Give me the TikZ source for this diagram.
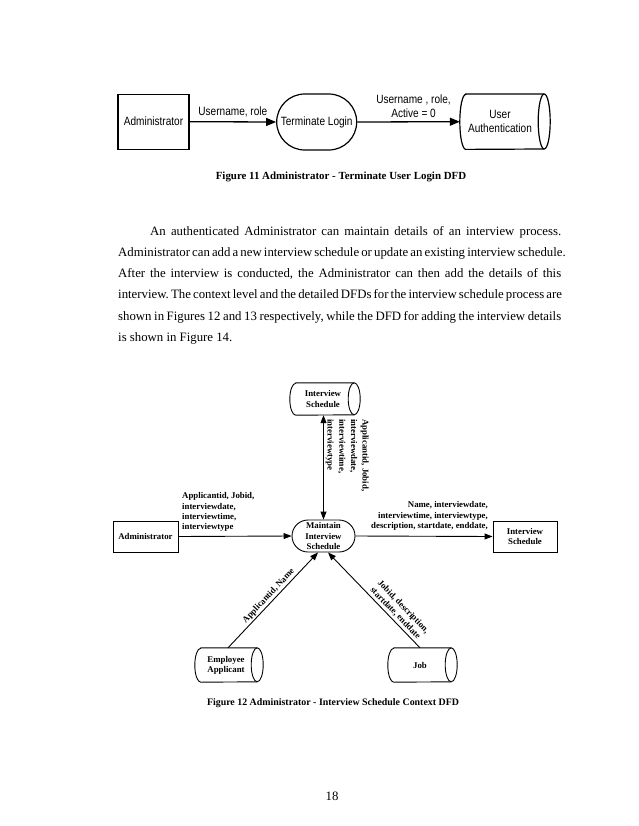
\documentclass[tikz,border=0pt]{standalone}
\usepackage{fontspec}
\setmainfont{Liberation Serif}
\newfontfamily\figsans[FakeStretch=0.84]{Liberation Sans}
\usetikzlibrary{arrows.meta,positioning}
\frenchspacing
\newcommand{\storeoutline}[4]{%
  \draw[#4] ([xshift=#2]#1.north west) -- ([xshift=-#2]#1.north east)
    arc[start angle=90,end angle=-90,x radius=#2,y radius=#3]
    -- ([xshift=#2]#1.south west)
    arc[start angle=270,end angle=90,x radius=#2,y radius=#3] -- cycle;
  \draw[#4] ([xshift=-#2]#1.north east)
    arc[start angle=90,end angle=270,x radius=#2,y radius=#3];}
\tikzset{
  fa/.style={font=\figsans\fontsize{12}{14}\selectfont},
  fb/.style={font=\bfseries\fontsize{8.8}{10.2}\selectfont},
  linea/.style={line width=1.2pt},
  lineb/.style={line width=0.9pt},
  boxa/.style={fa,draw,linea,inner sep=0pt,align=center},
  boxb/.style={fb,draw,lineb,inner sep=0pt,align=center},
  storetext/.style={inner sep=0pt,align=center},
  arra/.style={-{Triangle[length=10pt,width=8pt]},line width=1.3pt},
  arrb/.style={-{Triangle[length=8pt,width=6pt]},line width=0.9pt},
  para/.style={inner sep=0pt,anchor=base west,font=\fontsize{12.8}{21.3}\selectfont},
  caption/.style={inner sep=0pt,anchor=base,font=\bfseries\fontsize{10.9}{13}\selectfont},
}
\begin{document}
\begin{tikzpicture}[x=1pt,y=1pt]
\useasboundingbox[fill=white] (0,0) rectangle (638,-826);

% ---------- Figure 11 ----------
\node[boxa,minimum width=71pt,minimum height=55pt] (adm1) at (153.5,-121.7) {Administrator};
\node[boxa,rounded corners=28pt,minimum width=80pt,minimum height=56pt] (term) at (316.7,-122) {Terminate Login};
\node[storetext,fa,minimum width=90pt,minimum height=55pt] (uauth) at (505,-121.7) {};
\node[fa,inner sep=0pt,align=center] (uauthtxt) at (500,-121) {User\\Authentication};
\storeoutline{uauth}{6pt}{27.5pt}{linea}
\draw[arra] (adm1.east) -- (term.west) node[fa,midway,above=4pt,inner sep=0pt] (l1) {Username, role};
\draw[arra] (term.east) -- (uauth.west) node[fa,midway,above=4pt,inner sep=0pt,align=center,xshift=5pt] (l2) {Username , role,\\Active = 0};
\node[caption] (cap11) at (341,-180) {Figure 11 Administrator - Terminate User Login DFD};

% ---------- Paragraph ----------
\node[para] (p1) at (150,-235) {\makebox[411pt][s]{An authenticated Administrator can maintain details of an interview process.}};
\node[para] (p2) at (118,-256.3) {\makebox[443pt][s]{Administrator can add a new interview schedule or update an existing interview schedule.}};
\node[para] (p3) at (118,-277.6) {\makebox[443pt][s]{After the interview is conducted, the Administrator can then add the details of this}};
\node[para] (p4) at (118,-298.9) {\makebox[443pt][s]{interview. The context level and the detailed DFDs for the interview schedule process are}};
\node[para] (p5) at (118,-320.2) {\makebox[443pt][s]{shown in Figures 12 and 13 respectively, while the DFD for adding the interview details}};
\node[para] (p6) at (118,-341.5) {is shown in Figure 14.};

% ---------- Figure 12 ----------
\node[storetext,fb,minimum width=70pt,minimum height=32pt] (istore) at (325,-399) {};
\node[fb,storetext] (istoretxt) at (323,-399) {Interview\\Schedule};
\storeoutline{istore}{6pt}{16pt}{lineb}

\node[boxb,rounded corners=16pt,minimum width=63pt,minimum height=32pt] (maint) at (323.5,-536) {Maintain\\Interview\\Schedule};
\node[boxb,minimum width=65pt,minimum height=31pt] (adm2) at (145.5,-536.5) {Administrator};
\node[boxb,minimum width=64pt,minimum height=31pt] (isched) at (525,-536.5) {Interview\\Schedule};

\node[storetext,fb,minimum width=68pt,minimum height=34pt] (emp) at (229,-665) {};
\node[fb,storetext] (emptxt) at (226,-665) {Employee\\Applicant};
\storeoutline{emp}{6pt}{17pt}{lineb}
\node[storetext,fb,minimum width=69pt,minimum height=34pt] (job) at (422.5,-665) {};
\node[fb,storetext] (jobtxt) at (420,-665) {Job};
\storeoutline{job}{6pt}{17pt}{lineb}

\draw[arrb,{Triangle[length=8pt,width=6pt]}-{Triangle[length=8pt,width=6pt]}] (maint.north) -- (maint.north |- istore.south);
\node[fb,inner sep=0pt,rotate=-90,anchor=north west,align=left,font=\bfseries\fontsize{8.8}{11.7}\selectfont] (lv) at (369,-419) {Applicantid, Jobid,\\interviewdate,\\interviewtime,\\interviewtype};

\draw[arrb] (adm2.east) -- (maint.west);
\node[fb,inner sep=0pt,anchor=north west,align=left] (ladm) at (182,-492.5) {Applicantid, Jobid,\\interviewdate,\\interviewtime,\\interviewtype};

\draw[arrb] (maint.east) -- (isched.west);
\node[fb,inner sep=0pt,anchor=north east,align=right] (lis) at (488,-501.5) {Name, interviewdate,\\interviewtime, interviewtype,\\description, startdate, enddate,};

\coordinate (ma) at ([xshift=-5.5pt]maint.south);
\coordinate (mb) at ([xshift=4.5pt]maint.south);
\draw[arrb] ([xshift=-1pt]emp.north) -- (ma) node[fb,midway,sloped,above=1.5pt,inner sep=0pt] (lemp) {Applicantid, Name};
\draw[arrb] ([xshift=-2.5pt]job.north) -- (mb) node[fb,pos=0.31,sloped,above=2pt,inner sep=0pt,align=left] (ljob) {Jobid, description,\\startdate, enddate};

\node[caption,font=\bfseries\fontsize{9.9}{12}\selectfont] (cap12) at (333,-705) {Figure 12 Administrator - Interview Schedule Context DFD};

\node[para,anchor=base] (pnum) at (332,-800) {18};
\end{tikzpicture}
\end{document}
